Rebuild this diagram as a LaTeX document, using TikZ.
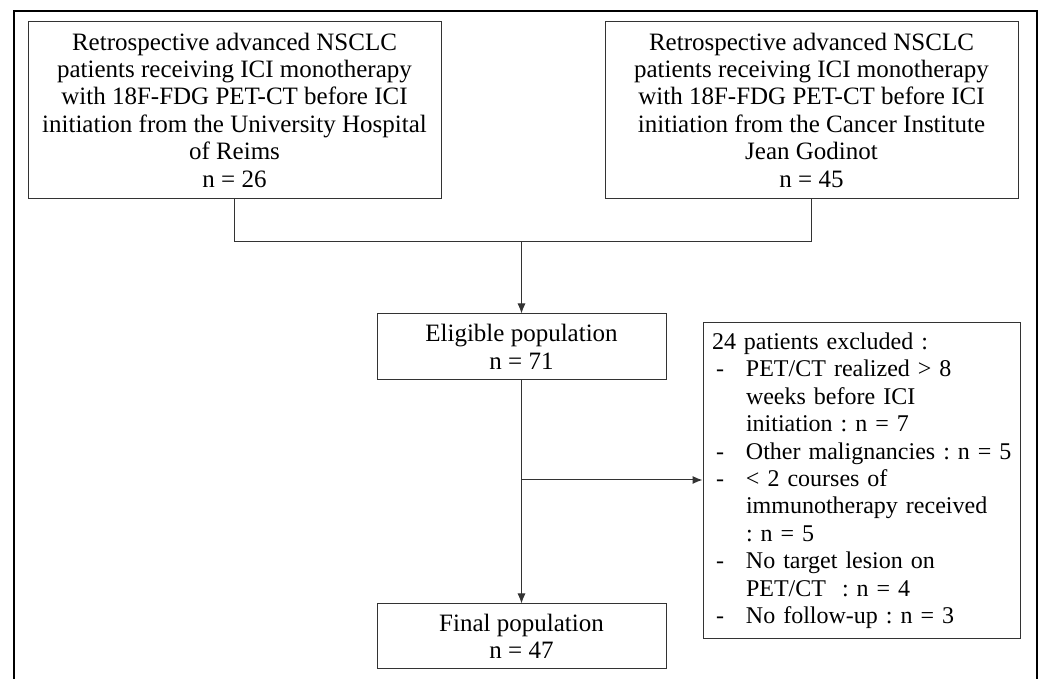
\documentclass[tikz,border=0pt]{standalone}
\usepackage{fontspec}
\setmainfont{Liberation Serif}
\usetikzlibrary{arrows.meta}

\begin{document}
\begin{tikzpicture}[x=0.5pt,y=-0.5pt,
    box/.style={draw=black!80, line width=0.5pt, align=center, inner sep=0pt,
      font=\fontsize{12.5}{13.7}\selectfont\frenchspacing},
    link/.style={draw=black!80, line width=0.5pt},
    arr/.style={link, -{Latex[length=5pt,width=4pt]}}]
  \useasboundingbox (0,0) rectangle (1041,679);
  \draw[line width=1.3pt] (14,679) -- (14,11) -- (1037,11) -- (1037,679);

  \node[box, minimum width=206.5pt, minimum height=88.5pt] (reims) at (234.5,110)
    {Retrospective advanced NSCLC\\ patients receiving ICI monotherapy\\
     with 18F-FDG PET-CT before ICI\\ initiation from the University Hospital\\
     of Reims\\ n = 26};
  \node[box, minimum width=206.5pt, minimum height=88.5pt] (godinot) at (811.5,110)
    {Retrospective advanced NSCLC\\ patients receiving ICI monotherapy\\
     with 18F-FDG PET-CT before ICI\\ initiation from the Cancer Institute\\
     Jean Godinot\\ n = 45};
  \node[box, minimum width=144.5pt, minimum height=33pt] (eligible) at (521.5,347)
    {Eligible population\\ n = 71};
  \node[box, minimum width=144.5pt, minimum height=32.5pt] (final) at (521.5,636.5)
    {Final population\\ n = 47};
  \node[box, align=left, inner xsep=4.5pt, text width=149.5pt, minimum height=158pt,
    font=\fontsize{12}{13.7}\selectfont\frenchspacing]
    (excluded) at (861.5,481)
    {\begin{tabular}{@{}p{17pt}@{}l@{}}
      \multicolumn{2}{@{}l@{}}{24 patients excluded :}\\
      \hspace{2pt}- & PET/CT realized > 8\\
                    & weeks before ICI\\
                    & initiation : n = 7\\
      \hspace{2pt}- & Other malignancies : n = 5\\
      \hspace{2pt}- & < 2 courses of\\
                    & immunotherapy received\\
                    & : n = 5\\
      \hspace{2pt}- & No target lesion on\\
                    & PET/CT ~: n = 4\\
      \hspace{2pt}- & No follow-up : n = 3
    \end{tabular}};

  \coordinate (left) at (reims.south |- 0,242);
  \coordinate (right) at (godinot.south |- 0,242);
  \coordinate (join) at (eligible.north |- 0,242);
  \coordinate (branch) at (eligible.south |- 0,480);
  \draw[link] (reims.south) -- (left) -- (right) -- (godinot.south);
  \draw[arr] (join) -- (eligible.north);
  \draw[arr] (eligible.south) -- (final.north);
  \draw[arr] (branch) -- (branch -| excluded.west);
\end{tikzpicture}
\end{document}
